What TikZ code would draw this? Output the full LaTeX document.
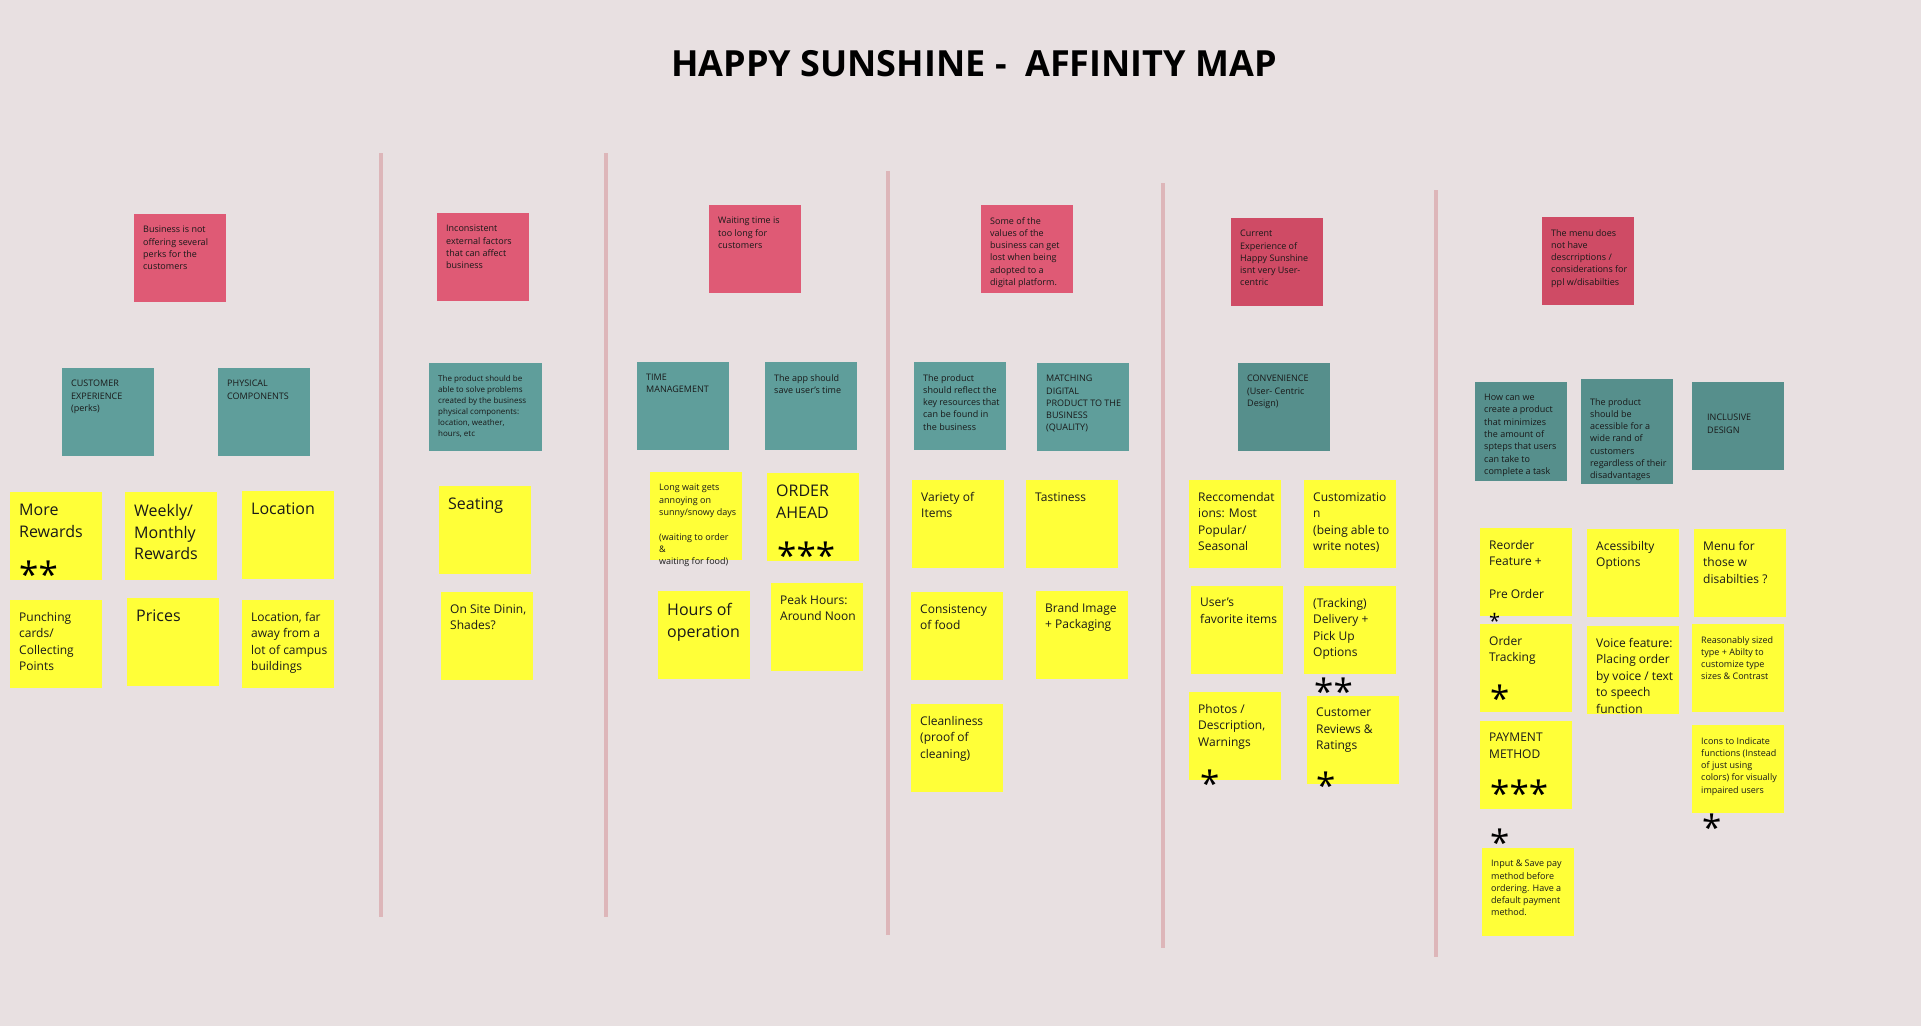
\documentclass[tikz,border=0pt]{standalone}
\usepackage{fontspec}
\setmainfont{Open Sans}
\definecolor{boardbg}{HTML}{E8E0E1}
\definecolor{dividerpink}{HTML}{DDB6B9}
\definecolor{problemred}{HTML}{DF5A75}
\definecolor{problemdark}{HTML}{CF4B65}
\definecolor{themeteal}{HTML}{5F9E9B}
\definecolor{themedark}{HTML}{568F8C}
\definecolor{ideayellow}{HTML}{FFFF38}
\tikzset{
    note/.style={
        anchor=north west,
        inner sep=0pt,
        outer sep=0pt,
        minimum width=92,
        minimum height=88
    },
    problem/.style={note, fill=problemred},
    problemdk/.style={note, fill=problemdark},
    theme/.style={note, fill=themeteal},
    themedk/.style={note, fill=themedark},
    idea/.style={note, fill=ideayellow},
    notetext/.style={
        anchor=north west,
        inner sep=0pt,
        align=left,
        text=black!90
    },
    finetext/.style={font=\fontsize{8}{11}\selectfont},
    smalltext/.style={font=\fontsize{9}{12.3}\selectfont},
    midtext/.style={font=\fontsize{12}{16.5}\selectfont},
    bigtext/.style={font=\fontsize{16}{21.7}\selectfont},
    vote/.style={
        anchor=north west,
        inner sep=0pt,
        font=\fontsize{35}{35}\selectfont
    },
    divider/.style={
        line width=4,
        draw=dividerpink
    }
}
% name, box style, text style, top left corner, text
\newcommand\stickynote[5]{%
    \node[#2] (#1) at (#4) {};
    \node[notetext, #3] (#1-txt) at ([shift={(9,12)}]#1.north west) {#5};
}

\begin{document}
\begin{tikzpicture}[x=1pt, y=-1pt]
    \useasboundingbox (0,0) rectangle (1921,1026);
    \fill[boardbg] (0,0) rectangle (1921,1026);

    \node[anchor=base, font=\bfseries\fontsize{36}{40}\selectfont] (title) at (974,76)
        {HAPPY SUNSHINE -\ \ AFFINITY MAP};

    \foreach \x/\top/\bottom in {381/153/917, 606/153/917, 888/171/935, 1163/183/948, 1436/190/957}
        \draw[divider] (\x,\top) -- (\x,\bottom);

    % perks
    \stickynote{perks}{problem}{smalltext}{134,214}{Business is not\\offering several\\perks for the\\customers}
    \stickynote{custexp}{theme}{smalltext}{62,368}{CUSTOMER\\EXPERIENCE\\(perks)}
    \stickynote{physical}{theme}{smalltext}{218,368}{PHYSICAL\\COMPONENTS}
    \stickynote{morerewards}{idea}{bigtext}{10,492}{More\\Rewards}
    \stickynote{weekly}{idea}{bigtext}{125,492}{Weekly/\\Monthly\\Rewards}
    \stickynote{location}{idea}{bigtext}{242,491}{Location}
    \stickynote{punching}{idea}{midtext}{10,600}{Punching\\cards/\\Collecting\\Points}
    \stickynote{prices}{idea}{bigtext}{127,598}{Prices}
    \stickynote{farcampus}{idea}{midtext}{242,600}{Location, far\\away from a\\lot of campus\\buildings}

    % external factors
    \stickynote{external}{problem}{smalltext}{437,213}{Inconsistent\\external factors\\that can affect\\business}
    \stickynote{solveprob}{theme, minimum width=113}{finetext}{429,363}{The product should be\\able to solve problems\\created by the business\\physical components:\\location, weather,\\hours, etc}
    \stickynote{seating}{idea}{bigtext}{439,486}{Seating}
    \stickynote{dining}{idea}{midtext}{441,592}{On Site Dinin,\\Shades?}

    % waiting time
    \stickynote{waiting}{problem}{smalltext}{709,205}{Waiting time is\\too long for\\customers}
    \stickynote{timemgmt}{theme}{smalltext}{637,362}{TIME\\MANAGEMENT}
    \stickynote{savetime}{theme}{smalltext}{765,362}{The app should\\save user's time}
    \stickynote{longwait}{idea}{smalltext}{650,472}{Long wait gets\\annoying on\\sunny/snowy days\\[12.3pt](waiting to order\\\&\\waiting for food)}
    \stickynote{orderahead}{idea}{bigtext}{767,473}{ORDER\\AHEAD}
    \stickynote{hours}{idea}{bigtext}{658,591}{Hours of\\operation}
    \stickynote{peak}{idea}{midtext}{771,583}{Peak Hours:\\Around Noon}

    % values of the business
    \stickynote{values}{problem}{smalltext}{981,205}{Some of the\\values of the\\business can get\\lost when being\\adopted to a\\digital platform.}
    \stickynote{keyres}{theme}{smalltext}{914,362}{The product\\should reflect the\\key resources that\\can be found in\\the business}
    \stickynote{matching}{theme}{smalltext}{1037,363}{MATCHING\\DIGITAL\\PRODUCT TO THE\\BUSINESS\\(QUALITY)}
    \stickynote{variety}{idea}{midtext}{912,480}{Variety of\\Items}
    \stickynote{tastiness}{idea}{midtext}{1026,480}{Tastiness}
    \stickynote{consistency}{idea}{midtext}{911,592}{Consistency\\of food}
    \stickynote{brand}{idea}{midtext}{1036,591}{Brand Image\\+ Packaging}
    \stickynote{clean}{idea}{midtext}{911,704}{Cleanliness\\(proof of\\cleaning)}

    % user centric
    \stickynote{usercentric}{problemdk}{smalltext}{1231,218}{Current\\Experience of\\Happy Sunshine\\isnt very User-\\centric}
    \stickynote{convenience}{themedk}{smalltext}{1238,363}{CONVENIENCE\\(User- Centric\\Design)}
    \stickynote{recommend}{idea}{midtext}{1189,480}{Reccomendat\\ions: Most\\Popular/\\Seasonal}
    \stickynote{custom}{idea}{midtext}{1304,480}{Customizatio\\n\\(being able to\\write notes)}
    \stickynote{favorites}{idea}{midtext}{1191,586}{User's\\favorite items}
    \stickynote{delivery}{idea}{midtext}{1304,586}{(Tracking)\\Delivery +\\Pick Up\\Options}
    \stickynote{photos}{idea}{midtext}{1189,692}{Photos /\\Description,\\Warnings}
    \stickynote{reviews}{idea}{midtext}{1307,696}{Customer\\Reviews \&\\Ratings}

    % accessibility
    \stickynote{menudesc}{problemdk}{smalltext}{1542,217}{The menu does\\not have\\descrriptions /\\considerations for\\ppl w/disabilties}
    \stickynote{fewsteps}{themedk, minimum height=99}{smalltext}{1475,382}{How can we\\create a product\\that minimizes\\the amount of\\spteps that users\\can take to\\complete a task}
    \stickynote{accessible}{themedk, minimum height=105}{smalltext, yshift=-7}{1581,379}{The product\\should be\\acessible for a\\wide rand of\\customers\\regardless of their\\disadvantages}
    \stickynote{inclusive}{themedk}{smalltext, xshift=6, yshift=-20}{1692,382}{INCLUSIVE\\DESIGN}
    \stickynote{reorder}{idea}{midtext}{1480,528}{Reorder\\Feature +\\[16.5pt]Pre Order}
    \stickynote{accopts}{idea}{midtext}{1587,529}{Acessibilty\\Options}
    \stickynote{menudis}{idea}{midtext}{1694,529}{Menu for\\those w\\disabilties ?}
    \stickynote{tracking}{idea}{midtext}{1480,624}{Order\\Tracking}
    \stickynote{voice}{idea}{midtext}{1587,626}{Voice feature:\\Placing order\\by voice / text\\to speech\\function}
    \stickynote{typesize}{idea}{smalltext}{1692,624}{Reasonably sized\\type + Abilty to\\customize type\\sizes \& Contrast}
    \stickynote{payment}{idea}{midtext}{1480,721}{PAYMENT\\METHOD}
    \stickynote{icons}{idea}{smalltext}{1692,725}{Icons to Indicate\\functions (Instead\\of just using\\colors) for visually\\impaired users}
    \stickynote{savepay}{idea}{smalltext}{1482,848}{Input \& Save pay\\method before\\ordering. Have a\\default payment\\method.}

    % votes
    \node[vote] (vote-rewards) at (19,561) {**};
    \node[vote] (vote-order) at (777,542) {***};
    \node[vote] (vote-delivery) at (1314,678) {**};
    \node[vote] (vote-photos) at (1200,770) {*};
    \node[vote] (vote-reviews) at (1316,772) {*};
    \node[vote, font=\fontsize{20}{20}\selectfont] (vote-reorder) at (1489,613) {*};
    \node[vote] (vote-tracking) at (1490,685) {*};
    \node[vote] (vote-payment) at (1490,780) {***};
    \node[vote] (vote-savepay) at (1490,829) {*};
    \node[vote] (vote-icons) at (1702,814) {*};
\end{tikzpicture}
\end{document}
